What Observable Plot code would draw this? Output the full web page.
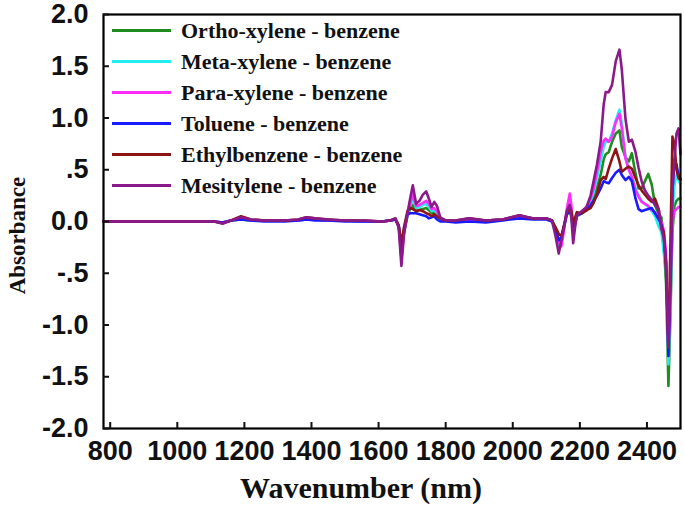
<!DOCTYPE html>
<html>
<head>
<meta charset="utf-8">
<script src="https://cdn.jsdelivr.net/npm/d3@7"></script>
<script src="https://cdn.jsdelivr.net/npm/@observablehq/plot@0.6"></script>
<style>
  html, body { margin: 0; padding: 0; background: #fff; }
  #wrap { position: relative; width: 685px; height: 512px; }
  #legend { position: absolute; left: 112px; top: 15px; font-family: "Liberation Serif", "Times New Roman", serif; font-weight: bold; font-size: 22px; color: #111; }
  .row { display: flex; align-items: center; height: 31px; }
  .sw { width: 59px; height: 3px; margin-right: 10px; }
</style>
</head>
<body>
<div id="wrap"><div id="legend"></div></div>
<script>
// Wavelength grid (nm), shared by all series
const wavelengths = [780, 850, 950, 1050, 1110, 1135, 1160, 1190, 1220, 1260,
  1320, 1360, 1385, 1410, 1450, 1500, 1560, 1610, 1635, 1650,
  1660, 1668, 1676, 1686, 1694, 1702, 1712, 1722, 1732, 1742,
  1750, 1758, 1766, 1774, 1784, 1800, 1830, 1870, 1920, 1970,
  2020, 2060, 2100, 2117, 2128, 2137, 2145, 2152, 2161, 2170,
  2175, 2180, 2186, 2191, 2206, 2220, 2232, 2241, 2251, 2262,
  2271, 2277, 2286, 2296, 2307, 2318, 2325, 2336, 2346, 2355,
  2366, 2375, 2384, 2394, 2404, 2414, 2424, 2435, 2443, 2450,
  2457, 2464, 2470, 2476, 2482, 2488, 2494, 2500];

const orthoXylene = [0, 0, 0, 0, 0, -0.01, 0.01, 0.02, 0.01, 0.01,
  0.01, 0.01, 0.02, 0.02, 0.01, 0.01, 0, 0, 0.01, 0.02,
  -0.04, -0.3, -0.1, 0.05, 0.12, 0.16, 0.1, 0.11, 0.12, 0.13,
  0.11, 0.08, 0.09, 0.07, 0.02, 0.01, 0, 0.02, 0.01, 0.02,
  0.04, 0.03, 0.03, 0.01, -0.08, -0.2, -0.18, -0.06, 0.06, 0.12,
  0.05, -0.1, -0.02, 0.05, 0.08, 0.11, 0.17, 0.22, 0.33, 0.45,
  0.6, 0.65, 0.67, 0.77, 0.85, 0.88, 0.72, 0.62, 0.58, 0.66,
  0.46, 0.32, 0.32, 0.39, 0.46, 0.36, 0.16, 0.07, 0.04, -0.2,
  -0.6, -1.59, -0.9, -0.1, 0.15, 0.2, 0.22, 0.22];

const metaXylene = [0, 0, 0, 0, 0, -0.01, 0.01, 0.02, 0.01, 0.01,
  0.01, 0.01, 0.02, 0.02, 0.01, 0.01, 0, 0, 0.01, 0.02,
  -0.04, -0.3, -0.1, 0.05, 0.15, 0.22, 0.13, 0.14, 0.16, 0.17,
  0.14, 0.1, 0.11, 0.08, 0.02, 0.01, 0, 0.02, 0.01, 0.02,
  0.04, 0.03, 0.03, 0.01, -0.12, -0.27, -0.2, -0.08, 0.08, 0.17,
  0.08, -0.12, -0.03, 0.05, 0.1, 0.13, 0.2, 0.28, 0.42, 0.58,
  0.72, 0.77, 0.77, 0.85, 0.98, 1.08, 0.95, 0.62, 0.5, 0.44,
  0.32, 0.25, 0.2, 0.17, 0.14, 0.1, 0.05, -0.05, -0.1, -0.3,
  -0.5, -1.38, -0.8, 0.1, 0.35, 0.45, 0.4, 0.36];

const paraXylene = [0, 0, 0, 0, 0, -0.01, 0.01, 0.03, 0.01, 0.01,
  0.01, 0.01, 0.03, 0.02, 0.01, 0.01, 0, 0, 0.01, 0.02,
  -0.05, -0.35, -0.1, 0.06, 0.17, 0.26, 0.15, 0.16, 0.18, 0.2,
  0.17, 0.12, 0.13, 0.1, 0.03, 0.01, 0, 0.02, 0.01, 0.02,
  0.05, 0.03, 0.03, 0.01, -0.1, -0.2, -0.24, -0.1, 0.12, 0.27,
  0.15, -0.1, -0.02, 0.05, 0.1, 0.14, 0.22, 0.32, 0.48, 0.67,
  0.78, 0.8, 0.77, 0.82, 0.96, 1.04, 0.9, 0.61, 0.5, 0.43,
  0.3, 0.24, 0.19, 0.17, 0.15, 0.11, 0.09, 0.04, 0, -0.08,
  -0.3, -1.3, -0.6, 0, 0.1, 0.12, 0.14, 0.14];

const toluene = [0, 0, 0, 0, 0, -0.01, 0.01, 0.02, 0.01, 0,
  0, 0.01, 0.02, 0.01, 0.01, 0, 0, 0, 0.01, 0.02,
  -0.04, -0.28, -0.08, 0.07, 0.08, 0.08, 0.08, 0.07, 0.06, 0.05,
  0.03, 0.04, 0.05, 0.02, 0, 0, -0.01, 0, -0.01, 0.01,
  0.03, 0.02, 0.02, 0, -0.08, -0.18, -0.15, -0.05, 0.07, 0.1,
  0.05, -0.05, 0, 0.06, 0.08, 0.11, 0.16, 0.2, 0.25, 0.32,
  0.39, 0.38, 0.37, 0.42, 0.47, 0.5, 0.45, 0.4, 0.43, 0.39,
  0.22, 0.12, 0.1, 0.11, 0.12, 0.13, 0.08, 0.02, -0.03, -0.12,
  -0.4, -1.3, -0.6, 0.3, 0.6, 0.55, 0.45, 0.41];

const ethylbenzene = [0, 0, 0, 0, 0, -0.02, 0.01, 0.05, 0.02, 0.01,
  0.01, 0.02, 0.04, 0.03, 0.02, 0.01, 0.01, 0, 0.01, 0.03,
  -0.04, -0.21, -0.05, 0.1, 0.13, 0.12, 0.1, 0.11, 0.1, 0.08,
  0.07, 0.05, 0.07, 0.05, 0.03, 0.01, 0.01, 0.03, 0.01, 0.02,
  0.06, 0.03, 0.03, 0.01, -0.06, -0.12, -0.14, -0.05, 0.08, 0.14,
  0.1, -0.02, 0.04, 0.09, 0.08, 0.11, 0.13, 0.18, 0.26, 0.4,
  0.43, 0.41, 0.51, 0.61, 0.7, 0.58, 0.48, 0.51, 0.53, 0.51,
  0.42, 0.35, 0.3, 0.26, 0.22, 0.19, 0.22, 0.12, -0.07, -0.1,
  -0.5, -1.2, -0.2, 0.82, 0.75, 0.5, 0.42, 0.4];

const mesitylene = [0, 0, 0, 0, 0, -0.02, 0.01, 0.04, 0.02, 0.01,
  0.01, 0.02, 0.04, 0.03, 0.02, 0.01, 0.01, 0, 0.01, 0.03,
  -0.06, -0.43, -0.12, 0.08, 0.22, 0.35, 0.17, 0.2, 0.26, 0.29,
  0.22, 0.14, 0.19, 0.15, 0.04, 0.01, 0.01, 0.03, 0.01, 0.02,
  0.06, 0.03, 0.03, 0.01, -0.15, -0.31, -0.18, -0.07, 0.1, 0.16,
  0.02, -0.21, -0.05, 0.06, 0.1, 0.14, 0.25, 0.39, 0.55, 0.77,
  1.13, 1.25, 1.25, 1.32, 1.55, 1.66, 1.47, 0.99, 0.77, 0.79,
  0.67, 0.52, 0.39, 0.3, 0.25, 0.21, 0.16, 0.12, -0.07, -0.16,
  -0.4, -1.22, -0.6, 0.3, 0.6, 0.85, 0.9, 0.65];

const seriesNames = ["Ortho-xylene - benzene", "Meta-xylene - benzene", "Para-xylene - benzene",
  "Toluene - benzene", "Ethylbenzene - benzene", "Mesitylene - benzene"];
const seriesValues = [orthoXylene, metaXylene, paraXylene, toluene, ethylbenzene, mesitylene];
const seriesColors = ["#1e8c1e", "#22eef0", "#ff2cff", "#1a1aff", "#8c1414", "#8a1a8a"];

const yTicks = [-2, -1.5, -1, -0.5, 0, 0.5, 1, 1.5, 2];
const yTickLabels = ["-2.0", "-1.5", "-1.0", "-.5", "0.0", ".5", "1.0", "1.5", "2.0"];
const xTicks = [800, 1000, 1200, 1400, 1600, 1800, 2000, 2200, 2400];
const xTickLabels = ["800", "1000", "1200", "1400", "1600", "1800", "2000", "2200", "2400"];

const xTitle = "Wavenumber (nm)";
const yTitle = "Absorbance";

const rows = seriesNames.flatMap((name, i) =>
  wavelengths.map((w, j) => ({series: name, nm: w, A: seriesValues[i][j]})));

const tickFont = {fontFamily: "Liberation Sans, Arial, sans-serif", fontWeight: "bold", fontSize: 27};

const plot = Plot.plot({
  width: 685,
  height: 512,
  marginLeft: 103,
  marginRight: 5,
  marginTop: 14,
  marginBottom: 84,
  style: {background: "white", color: "#111", overflow: "visible"},
  x: {domain: [780, 2500], label: null},
  y: {domain: [-2, 2], label: null},
  marks: [
    ...seriesNames.map((name, i) =>
      Plot.line(rows.filter(d => d.series === name), {
        x: "nm", y: "A", stroke: seriesColors[i], strokeWidth: 2.6, curve: "linear"
      })),
    Plot.frame({stroke: "#000", strokeWidth: 2.2}),
    // inward tick marks
    Plot.axisY(yTicks, {anchor: "left", tickSize: 6, dx: 6, text: null, label: null, strokeWidth: 2}),
    Plot.axisX(xTicks, {anchor: "bottom", tickSize: 6, dy: -6, text: null, label: null, strokeWidth: 2}),
    // tick labels
    Plot.axisY(yTicks, {anchor: "left", tickSize: 0, tickPadding: 15, label: null,
      tickFormat: d => yTickLabels[yTicks.indexOf(d)], ...tickFont}),
    Plot.axisX(xTicks, {anchor: "bottom", tickSize: 0, tickPadding: 12, label: null,
      tickFormat: d => xTickLabels[xTicks.indexOf(d)], ...tickFont}),
    // axis titles
    Plot.text([yTitle], {text: d => d, frameAnchor: "left", textAnchor: "middle", lineAnchor: "middle",
      rotate: -90, dx: -86, dy: 14,
      fontFamily: "Liberation Serif, Times New Roman, serif", fontWeight: "bold", fontSize: 23, fill: "#111"}),
    Plot.text([xTitle], {text: d => d, frameAnchor: "bottom", textAnchor: "middle", lineAnchor: "middle",
      dx: -31, dy: 60,
      fontFamily: "Liberation Serif, Times New Roman, serif", fontWeight: "bold", fontSize: 30, fill: "#111"})
  ]
});

const wrap = document.getElementById("wrap");
wrap.insertBefore(plot, wrap.firstChild);

const legend = document.getElementById("legend");
seriesNames.forEach((name, i) => {
  const row = document.createElement("div");
  row.className = "row";
  const sw = document.createElement("span");
  sw.className = "sw";
  sw.style.background = seriesColors[i];
  const label = document.createElement("span");
  label.textContent = name;
  row.appendChild(sw);
  row.appendChild(label);
  legend.appendChild(row);
});
</script>
</body>
</html>
